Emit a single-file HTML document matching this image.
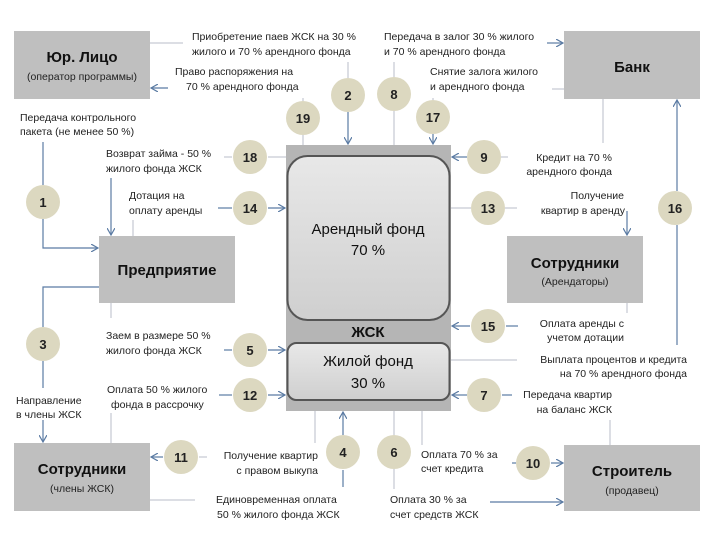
<!DOCTYPE html>
<html><head><meta charset="utf-8"><style>
body{margin:0;background:#fff}
svg{display:block;font-family:"Liberation Sans","DejaVu Sans",sans-serif}
.t{font-size:10.5px;fill:#222}
.c{fill:#dcd8c0}
.n{font-size:13px;font-weight:bold;fill:#222;text-anchor:middle}
.a{stroke:#5b7ba3;stroke-width:1.2;fill:none}
.g{stroke:#b8bec8;stroke-width:1;fill:none}
.box{fill:#bfbfbf}
.bt{font-size:15px;font-weight:bold;text-anchor:middle;fill:#111}
.st{font-size:10.5px;text-anchor:middle;fill:#222}
</style></head><body>
<svg width="720" height="540" viewBox="0 0 720 540">
<defs>
<marker id="ar" markerWidth="8" markerHeight="8" refX="7" refY="4" orient="auto" markerUnits="userSpaceOnUse"><path d="M0,0 L7,4 L0,8" fill="none" stroke="#5b7ba3" stroke-width="1.2"/></marker>
<linearGradient id="gr" x1="0" y1="0" x2="0" y2="1"><stop offset="0" stop-color="#e8e8e8"/><stop offset="1" stop-color="#cfcfcf"/></linearGradient>
</defs>
<!-- boxes -->
<rect class="box" x="14" y="31" width="136" height="68"/>
<text class="bt" x="82" y="62">Юр. Лицо</text><text class="st" x="82" y="80">(оператор программы)</text>
<rect class="box" x="564" y="31" width="136" height="68"/>
<text class="bt" x="632" y="72">Банк</text>
<rect class="box" x="99" y="236" width="136" height="67"/>
<text class="bt" x="167" y="275">Предприятие</text>
<rect class="box" x="507" y="236" width="136" height="67"/>
<text class="bt" x="575" y="268">Сотрудники</text><text class="st" x="575" y="285">(Арендаторы)</text>
<rect class="box" x="14" y="443" width="136" height="68"/>
<text class="bt" x="82" y="474">Сотрудники</text><text class="st" x="82" y="492">(члены ЖСК)</text>
<rect class="box" x="564" y="445" width="136" height="66"/>
<text class="bt" x="632" y="476">Строитель</text><text class="st" x="632" y="494">(продавец)</text>
<rect x="286" y="145" width="165" height="266" fill="#b5b5b5"/>
<rect x="287.5" y="156" width="162" height="164" rx="20" fill="url(#gr)" stroke="#555" stroke-width="2"/>
<text x="368" y="234" text-anchor="middle" font-size="15" fill="#111">Арендный фонд</text>
<text x="368" y="255" text-anchor="middle" font-size="15" fill="#111">70 %</text>
<text x="368" y="337" text-anchor="middle" font-size="15" font-weight="bold" fill="#111">ЖСК</text>
<rect x="287.5" y="343" width="162" height="57" rx="9" fill="url(#gr)" stroke="#555" stroke-width="2"/>
<text x="368" y="366" text-anchor="middle" font-size="15" fill="#111">Жилой фонд</text>
<text x="368" y="388" text-anchor="middle" font-size="15" fill="#111">30 %</text>
<!-- lines -->
<path class="g" d="M150 43H183"/>
<path class="a" d="M168 88H151" marker-end="url(#ar)"/>
<path class="g" d="M348 62V78"/><path class="a" d="M348 112V144" marker-end="url(#ar)"/>
<path class="g" d="M394 62V77M394 111V145"/>
<path class="g" d="M303 98V101M303 135V145"/>
<path class="g" d="M433 98V100"/><path class="a" d="M433 134V144" marker-end="url(#ar)"/>
<path class="a" d="M547 43H563" marker-end="url(#ar)"/>
<path class="g" d="M552 89H564M603 99V143"/>
<path class="a" d="M467 157H452" marker-end="url(#ar)"/><path class="g" d="M501 157H508"/>
<path class="g" d="M224 157H232M268 157H286"/>
<path class="a" d="M43 142V185" /><path class="a" d="M43 219V248H98" marker-end="url(#ar)"/>
<path class="a" d="M111 178V235" marker-end="url(#ar)"/>
<path class="g" d="M133 220V236"/>
<path class="a" d="M218 208H232"/><path class="a" d="M268 208H285" marker-end="url(#ar)"/>
<path class="g" d="M451 208H471M505 208H517"/><path class="a" d="M627 211V235" marker-end="url(#ar)"/>
<path class="a" d="M677 191V100" marker-end="url(#ar)"/><path class="a" d="M677 225V345"/>
<path class="a" d="M99 287H43V327M43 361V388"/><path class="a" d="M43 420V442" marker-end="url(#ar)"/>
<path class="g" d="M111 303V318"/>
<path class="a" d="M224 350H232"/><path class="a" d="M268 350H285" marker-end="url(#ar)"/>
<path class="a" d="M219 395H232"/><path class="a" d="M268 395H285" marker-end="url(#ar)"/>
<path class="g" d="M111 413V443"/>
<path class="a" d="M163 457H151" marker-end="url(#ar)"/><path class="g" d="M199 457H207M150 500H195"/>
<path class="a" d="M343 435V412" marker-end="url(#ar)"/><path class="a" d="M343 470V487"/>
<path class="g" d="M315 411V443"/>
<path class="g" d="M394 411V435M394 469V489M422 411V445"/>
<path class="a" d="M512 463H516"/><path class="a" d="M551 463H563" marker-end="url(#ar)"/>
<path class="a" d="M490 502H563" marker-end="url(#ar)"/>
<path class="a" d="M470 326H452" marker-end="url(#ar)"/><path class="a" d="M506 326H518"/>
<path class="g" d="M627 303V313M451 360H517"/>
<path class="a" d="M467 395H452" marker-end="url(#ar)"/><path class="a" d="M502 395H512"/>
<path class="g" d="M610 420V445"/>
<!-- circles -->
<g>
<circle class="c" cx="348" cy="95" r="17"/><text class="n" x="348" y="100">2</text>
<circle class="c" cx="394" cy="94" r="17"/><text class="n" x="394" y="99">8</text>
<circle class="c" cx="303" cy="118" r="17"/><text class="n" x="303" y="123">19</text>
<circle class="c" cx="433" cy="117" r="17"/><text class="n" x="433" y="122">17</text>
<circle class="c" cx="250" cy="157" r="17"/><text class="n" x="250" y="162">18</text>
<circle class="c" cx="484" cy="157" r="17"/><text class="n" x="484" y="162">9</text>
<circle class="c" cx="43" cy="202" r="17"/><text class="n" x="43" y="207">1</text>
<circle class="c" cx="250" cy="208" r="17"/><text class="n" x="250" y="213">14</text>
<circle class="c" cx="488" cy="208" r="17"/><text class="n" x="488" y="213">13</text>
<circle class="c" cx="675" cy="208" r="17"/><text class="n" x="675" y="213">16</text>
<circle class="c" cx="488" cy="326" r="17"/><text class="n" x="488" y="331">15</text>
<circle class="c" cx="43" cy="344" r="17"/><text class="n" x="43" y="349">3</text>
<circle class="c" cx="250" cy="350" r="17"/><text class="n" x="250" y="355">5</text>
<circle class="c" cx="250" cy="395" r="17"/><text class="n" x="250" y="400">12</text>
<circle class="c" cx="484" cy="395" r="17"/><text class="n" x="484" y="400">7</text>
<circle class="c" cx="343" cy="452" r="17"/><text class="n" x="343" y="457">4</text>
<circle class="c" cx="394" cy="452" r="17"/><text class="n" x="394" y="457">6</text>
<circle class="c" cx="181" cy="457" r="17"/><text class="n" x="181" y="462">11</text>
<circle class="c" cx="533" cy="463" r="17"/><text class="n" x="533" y="468">10</text>
</g>
<!-- labels -->
<g class="t">
<text x="192" y="40">Приобретение паев ЖСК  на 30 %</text><text x="192" y="55">жилого и 70 % арендного фонда</text>
<text x="175" y="75">Право распоряжения  на</text><text x="186" y="90">70 % арендного фонда</text>
<text x="384" y="40">Передача в залог 30 % жилого</text><text x="384" y="55">и 70 % арендного фонда</text>
<text x="430" y="75">Снятие залога жилого</text><text x="430" y="90">и арендного фонда</text>
<text x="20" y="121">Передача контрольного</text><text x="20" y="135">пакета (не менее 50 %)</text>
<text x="106" y="157">Возврат займа - 50 %</text><text x="106" y="172">жилого фонда ЖСК</text>
<text x="129" y="199">Дотация на</text><text x="129" y="214">оплату аренды</text>
<text x="612" y="161" text-anchor="end">Кредит на 70 %</text><text x="612" y="175" text-anchor="end">арендного фонда</text>
<text x="624" y="199" text-anchor="end">Получение</text><text x="625" y="214" text-anchor="end">квартир в аренду</text>
<text x="624" y="327" text-anchor="end">Оплата аренды с</text><text x="624" y="341" text-anchor="end">учетом дотации</text>
<text x="687" y="363" text-anchor="end">Выплата процентов и кредита</text><text x="687" y="377" text-anchor="end">на 70 % арендного фонда</text>
<text x="612" y="398" text-anchor="end">Передача квартир</text><text x="612" y="413" text-anchor="end">на баланс ЖСК</text>
<text x="106" y="339">Заем в размере 50 %</text><text x="106" y="354">жилого фонда ЖСК</text>
<text x="107" y="393">Оплата 50 % жилого</text><text x="111" y="408">фонда в рассрочку</text>
<text x="16" y="404">Направление</text><text x="16" y="418">в члены ЖСК</text>
<text x="318" y="459" text-anchor="end">Получение квартир</text><text x="318" y="474" text-anchor="end">с правом выкупа</text>
<text x="216" y="503">Единовременная оплата</text><text x="217" y="518">50 % жилого фонда ЖСК</text>
<text x="421" y="458">Оплата 70 % за</text><text x="421" y="472">счет кредита</text>
<text x="390" y="503">Оплата 30 % за</text><text x="390" y="518">счет средств ЖСК</text>
</g>
</svg>
</body></html>
